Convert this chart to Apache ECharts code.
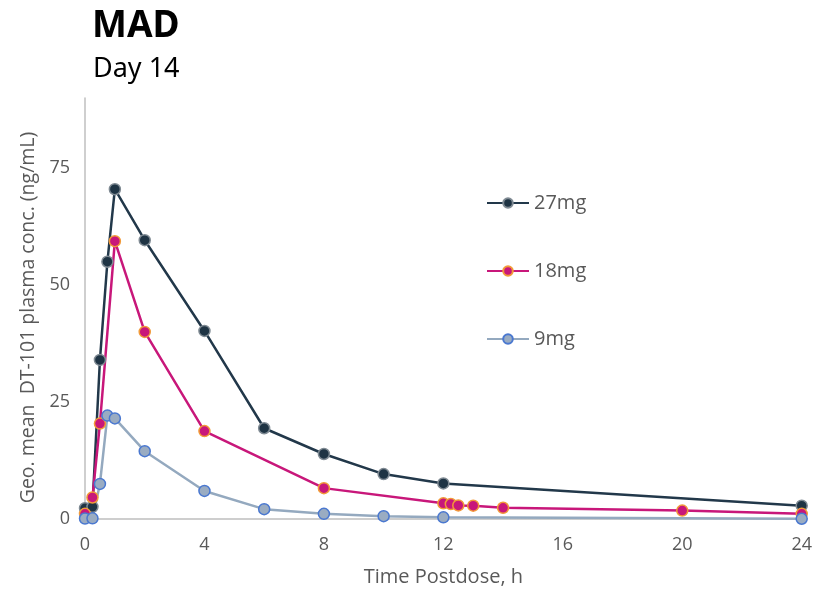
<!DOCTYPE html>
<html>
<head>
<meta charset="utf-8">
<script src="https://cdn.jsdelivr.net/npm/echarts@6/dist/echarts.min.js"></script>
<style>html,body{margin:0;padding:0;background:#fff}#c{width:815px;height:592px}</style>
</head>
<body>
<div id="c"></div>
<script>
var seriesNames = ['27mg', '18mg', '9mg'];
var times27 = [0, 0.25, 0.5, 0.75, 1, 2, 4, 6, 8, 10, 12, 24];
var conc27 = [2.3, 2.6, 34.0, 55.0, 70.5, 59.6, 40.2, 19.4, 13.9, 9.6, 7.6, 2.85];
var times18 = [0, 0.25, 0.5, 1, 2, 4, 8, 12, 12.25, 12.5, 13, 14, 20, 24];
var conc18 = [1.1, 4.6, 20.4, 59.4, 40.0, 18.8, 6.6, 3.35, 3.2, 2.9, 2.85, 2.4, 1.8, 1.1];
var times9 = [0, 0.25, 0.5, 0.75, 1, 2, 4, 6, 8, 10, 12, 24];
var conc9 = [0.1, 0.15, 7.5, 22.1, 21.5, 14.5, 6.0, 2.1, 1.1, 0.6, 0.35, 0.05];
var xTicks = [0, 4, 8, 12, 16, 20, 24];
var yTicks = [0, 25, 50, 75];

function pairs(t, v) { return t.map(function (x, i) { return [x, v[i]]; }); }

var styles = [
  { line: '#22384a', fill: '#1f3444', border: '#7f8a93' },
  { line: '#c8177a', fill: '#c8177a', border: '#f29a38' },
  { line: '#94a9bf', fill: '#9aacc2', border: '#4a78d0' }
];
var datasets = [pairs(times27, conc27), pairs(times18, conc18), pairs(times9, conc9)];

var chart = echarts.init(document.getElementById('c'));
var font = 'Open Sans';
chart.setOption({
  animation: false,
  title: [
    { text: 'MAD', left: 87, top: 3, textStyle: { fontFamily: 'Noto Sans', fontWeight: 'bold', fontSize: 37, color: '#000' } },
    { text: 'Day 14', left: 88, top: 51, textStyle: { fontFamily: 'Noto Sans', fontWeight: 'normal', fontSize: 27, color: '#000' } }
  ],
  grid: { left: 85, right: 7, top: 98, bottom: 73 },
  legend: {
    orient: 'vertical', left: 481, top: 188, itemGap: 48, itemWidth: 42, itemHeight: 12,
    data: seriesNames,
    textStyle: { fontFamily: font, fontSize: 20, color: '#595959' }
  },
  xAxis: {
    type: 'value', min: 0, max: 24, interval: 4,
    name: 'Time Postdose, h', nameLocation: 'middle', nameGap: 48,
    nameTextStyle: { fontFamily: font, fontSize: 20, color: '#595959' },
    axisLine: { lineStyle: { color: '#bfbfbf', width: 1.5 } },
    axisTick: { show: false },
    splitLine: { show: false },
    axisLabel: { fontFamily: font, fontSize: 18, color: '#595959', margin: 17,
      formatter: function (v) { return xTicks.indexOf(v) >= 0 ? String(v) : ''; } }
  },
  yAxis: {
    type: 'value', min: 0, max: 90, interval: 25,
    name: 'Geo. mean  DT-101 plasma conc. (ng/mL)', nameLocation: 'middle', nameGap: 46,
    nameTextStyle: { fontFamily: font, fontSize: 19.5, color: '#595959', padding: [0, 18, 0, 0] },
    axisLine: { show: true, lineStyle: { color: '#bfbfbf', width: 1.5 } },
    axisTick: { show: false },
    splitLine: { show: false },
    axisLabel: { fontFamily: font, fontSize: 18, color: '#595959', margin: 15,
      formatter: function (v) { return yTicks.indexOf(v) >= 0 ? String(v) : ''; } }
  },
  series: seriesNames.map(function (n, i) {
    return {
      name: n, type: 'line', data: datasets[i],
      symbol: 'circle', symbolSize: 11,
      lineStyle: { color: styles[i].line, width: 2.5 },
      itemStyle: { color: styles[i].fill, borderColor: styles[i].border, borderWidth: 1.5 }
    };
  })
});
</script>
</body>
</html>
